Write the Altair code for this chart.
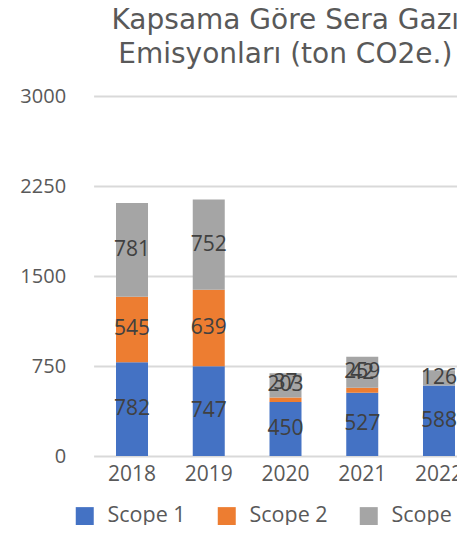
import altair as alt
import pandas as pd

years = ["2018", "2019", "2020", "2021", "2022"]
scope1 = [782, 747, 450, 527, 588]
scope2 = [545, 639, 37, 42, 0]
scope3 = [781, 752, 203, 259, 126]
series = ["Scope 1", "Scope 2", "Scope 3"]
colors = ["#4472C4", "#ED7D31", "#A5A5A5"]
y_ticks = [0, 750, 1500, 2250, 3000]

rows = []
for i, y in enumerate(years):
    for k, (name, vals) in enumerate(zip(series, [scope1, scope2, scope3])):
        rows.append({"year": y, "series": name, "idx": k + 1, "value": vals[i]})
df = pd.DataFrame(rows)

base = alt.Chart(df)

bars = base.mark_bar().encode(
    x=alt.X(
        "year:N",
        title=None,
        sort=years,
        scale=alt.Scale(paddingInner=0.583, paddingOuter=0.159, align=0.918),
        axis=alt.Axis(
            labelAngle=0, grid=False, domain=False, ticks=False,
            labelFont="Open Sans", labelFontSize=21, labelColor="#595959",
            labelPadding=7,
        ),
    ),
    y=alt.Y(
        "value:Q",
        title=None,
        stack="zero",
        scale=alt.Scale(domain=[0, 3000], nice=False),
        axis=alt.Axis(
            values=y_ticks, format="d", grid=True, domain=False, ticks=False,
            gridColor="#D9D9D9", gridWidth=2,
            labelFont="Open Sans", labelFontSize=20, labelColor="#595959",
            labelPadding=28,
        ),
    ),
    color=alt.Color(
        "series:N",
        scale=alt.Scale(domain=series, range=colors),
        legend=alt.Legend(
            title=None, orient="none", direction="horizontal",
            legendX=-19.6, legendY=409,
            symbolType="square", symbolSize=324, symbolStrokeWidth=0,
            labelFont="Open Sans", labelFontSize=21.5, labelColor="#595959",
            labelOffset=12, columnPadding=30, padding=0,
        ),
    ),
    order=alt.Order("idx:Q", sort="ascending"),
)

lab = base.transform_filter("datum.value > 0").transform_stack(
    stack="value", groupby=["year"], as_=["y0", "y1"],
    sort=[alt.SortField("idx", order="ascending")],
).transform_calculate(mid="(datum.y0 + datum.y1) / 2")

txt_main = lab.transform_filter(
    "!(datum.series == 'Scope 2' && datum.value < 100)"
).mark_text(font="Open Sans", fontSize=21, color="#404040").encode(
    x=alt.X("year:N", sort=years),
    y=alt.Y("mid:Q"),
    text=alt.Text("value:Q"),
)

txt_small = lab.transform_filter(
    "datum.series == 'Scope 2' && datum.value < 100"
).mark_text(font="Open Sans", fontSize=21, color="#404040", dy=-17).encode(
    x=alt.X("year:N", sort=years),
    y=alt.Y("mid:Q"),
    text=alt.Text("value:Q"),
)

chart = alt.layer(bars, txt_main, txt_small).properties(
    width=363.4,
    height=360,
    background="white",
    title=alt.TitleParams(
        text=["Kapsama Göre Sera Gazı", "Emisyonları (ton CO2e.)"],
        font="DejaVu Sans", fontSize=28, fontWeight="normal",
        color="#595959", lineHeight=34, anchor="middle", frame="group",
        dx=10, offset=17,
    ),
    autosize=alt.AutoSizeParams(type="none"),
    padding={"left": 85.6, "top": 88, "right": 0, "bottom": 69},
).configure_view(stroke="transparent", strokeWidth=0).configure_axis(
    domain=False, ticks=False, tickSize=0
)

chart.save("out.html", embed_options={"renderer": "svg", "actions": False})
